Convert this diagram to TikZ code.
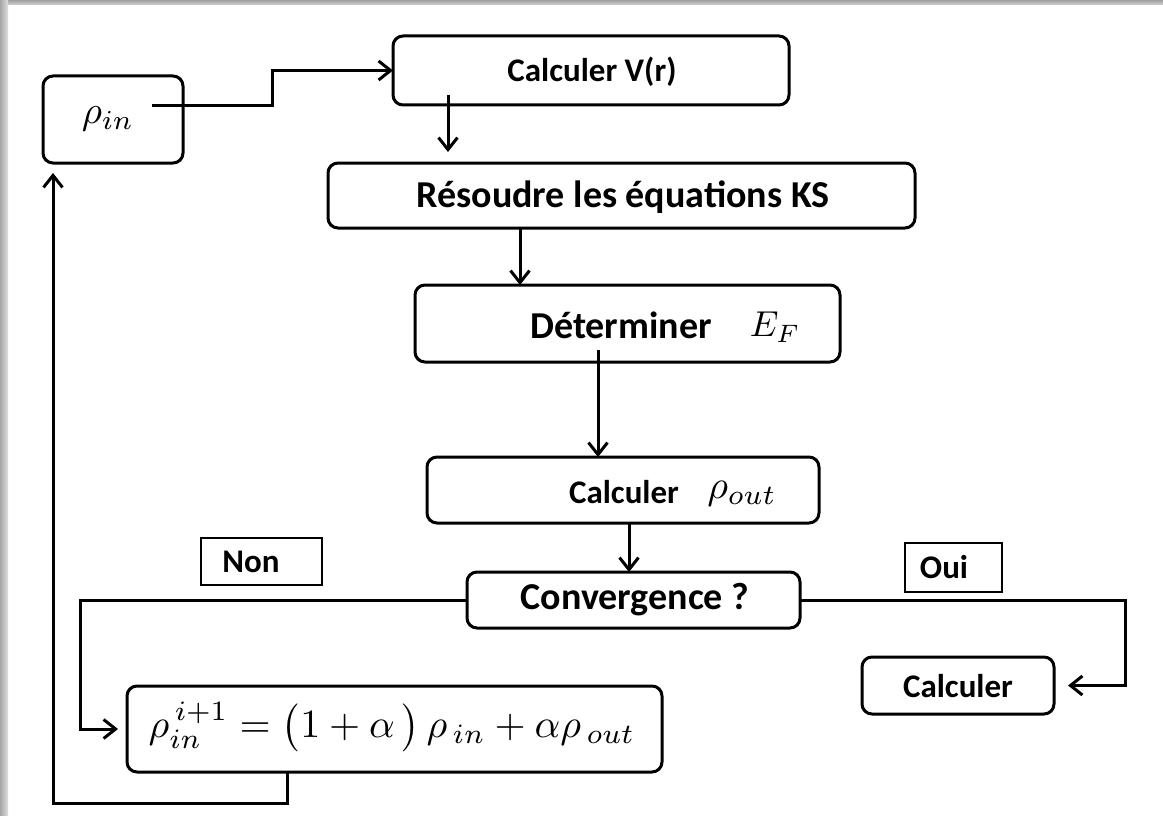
\documentclass[tikz,border=0pt]{standalone}
\usepackage{graphicx}
\usepackage{fontspec}
\setmainfont{Carlito}
\usetikzlibrary{arrows.meta,calc}
\begin{document}
\begin{tikzpicture}[x=1pt,y=-1pt,
  box/.style={draw, line width=3pt, rounded corners=10pt, inner sep=0pt, outer sep=0pt, anchor=north west},
  lab/.style={draw, line width=2.8pt, inner sep=0pt, outer sep=0pt, anchor=north west},
  txt/.style={inner sep=0pt, font=\bfseries\fontsize{38}{41}\selectfont},
  txts/.style={inner sep=0pt, font=\bfseries\fontsize{33}{36}\selectfont},
  mth/.style={inner sep=0pt},
  arr/.style={line width=3pt, -{Straight Barb[length=12pt,width=19pt]}}]
\useasboundingbox (0,0) rectangle (1163,816);
\fill[white] (0,0) rectangle (1163,816);
\shade[top color=gray!75, bottom color=gray!35] (0,0) rectangle (1163,5);
\shade[left color=gray!70, right color=gray!25] (0,0) rectangle (8,816);

% boxes
\node[box, minimum width=140pt, minimum height=87pt] (rin) at (43,76) {};
\node[box, minimum width=396pt, minimum height=69pt] (vr) at (393,36) {};
\node[box, minimum width=587pt, minimum height=65pt] (res) at (328,163) {};
\node[box, minimum width=425pt, minimum height=77pt] (det) at (415,285) {};
\node[box, minimum width=392pt, minimum height=66pt] (cout) at (427,457) {};
\node[box, minimum width=333pt, minimum height=56pt] (conv) at (467,572) {};
\node[lab, minimum width=121pt, minimum height=47pt] (non) at (201,538) {};
\node[lab, minimum width=97pt, minimum height=49pt] (oui) at (905,543) {};
\node[box, minimum width=535pt, minimum height=86pt] (form) at (127,686) {};
\node[box, minimum width=192pt, minimum height=57pt] (calc) at (862,657) {};

% texts
\node[mth] (rinT) at (108,119) {\scalebox{3.9}{$\rho_{in}$}};
\node[txts] (vrT) at (592,72) {Calculer V(r)};
\node[txt] (resT) at (623,197) {Résoudre les équations KS};
\node[txt] (detT) at (621,325) {Déterminer};
\node[mth] (detM) at (775,327) {\scalebox{3.6}{$E_F$}};
\node[txts] (coutT) at (624,492) {Calculer};
\node[mth] (coutM) at (742,494) {\scalebox{4}{$\rho_{out}$}};
\node[txt] (convT) at (635,600) {Convergence ?};
\node[txts] (nonT) at (251,562) {Non};
\node[txts] (ouiT) at (944,567) {Oui};
\node[mth] (formT) at (392,727) {\scalebox{4.0}{$\rho_{in}^{\,i+1} = \bigl(1+\alpha\,\bigr)\,\rho_{\,in} + \alpha\rho_{\,out}$}};
\node[txts] (calcT) at (958,686) {Calculer};

% connectors
\coordinate (p0) at (152,106);
\draw[arr] (p0) -- ++(120,0) |- (vr.west);
\coordinate (a1) at ([xshift=55pt,yshift=10pt]vr.south west);
\draw[arr, shorten >=11pt] (a1) -- (a1 |- res.north);
\coordinate (a2) at ([xshift=105pt]det.north west);
\draw[arr] (a2 |- res.south) -- (a2);
\coordinate (a3) at ([xshift=171pt]cout.north west);
\draw[arr] ([yshift=12pt]a3 |- det.south) -- (a3);
\coordinate (a4) at ([xshift=162pt]conv.north west);
\draw[arr] (a4 |- cout.south) -- (a4);
\draw[arr, shorten >=9pt] (conv.west) -- ++(-387,0) |- (form.west);
\draw[arr, shorten >=10pt] ([xshift=160pt]form.south west) -- ++(0,31) -| ([xshift=10pt]rin.south west);
\draw[arr, shorten >=14pt] (conv.east) -- ++(325,0) |- (calc.east);
\end{tikzpicture}
\end{document}
